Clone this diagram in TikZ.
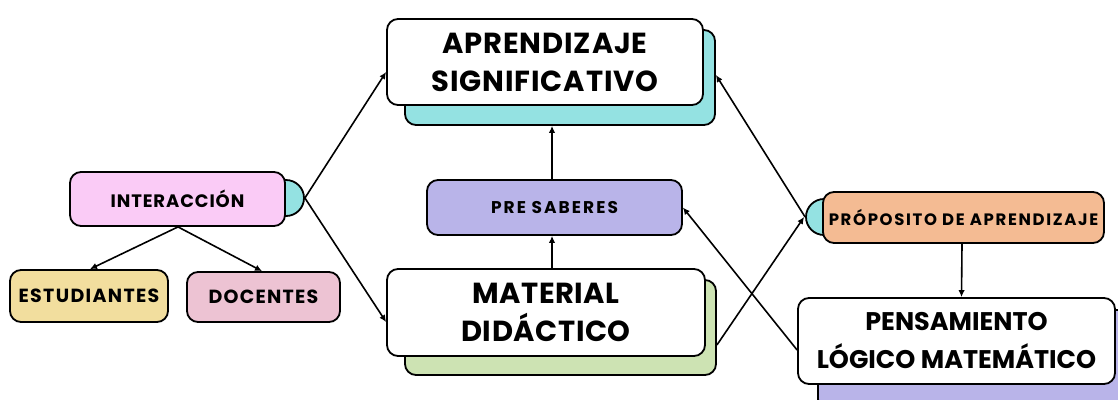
\documentclass[tikz,border=0pt]{standalone}
\usepackage{fontspec}
\setmainfont{Poppins}
\usetikzlibrary{arrows.meta}
\definecolor{cpink}{HTML}{FACBF6}
\definecolor{cteal}{HTML}{94E2E2}
\definecolor{ctan}{HTML}{F2DE9E}
\definecolor{cdpink}{HTML}{EDC3D3}
\definecolor{cpurple}{HTML}{B9B4E9}
\definecolor{cgreen}{HTML}{CDE3B3}
\definecolor{corange}{HTML}{F4BB93}
\tikzset{
  box/.style={draw=black, line width=1.8pt, rounded corners=11pt, inner sep=0pt, align=center, font=\bfseries},
  bump/.style={draw=black, line width=1.8pt, circle, fill=cteal, minimum size=36pt, inner sep=0pt},
  conn/.style={line width=1.6pt, -{Latex[length=7pt,width=6.5pt]}}
}
\begin{document}
\begin{tikzpicture}[x=1pt,y=-1pt]
\clip (0,0) rectangle (1118,399);
\fill[white] (0,0) rectangle (1118,399);
% bumps
\node[bump] (ibump) at (286,198) {};
\node[bump] (pbump) at (824,217) {};
% shadows
\node[box, fill=cteal, minimum width=310pt, minimum height=95pt] (aprsh) at (560,77.5) {};
\node[box, fill=cgreen, minimum width=311pt, minimum height=95pt] (matsh) at (560.5,327.5) {};
\node[box, fill=cpurple, minimum width=317pt, minimum height=100pt] (penssh) at (976.5,360) {};
% main boxes
\node[box, fill=cpink, minimum width=215pt, minimum height=54pt, font=\bfseries\fontsize{18}{20}\selectfont\addfontfeature{LetterSpace=5}] (inter) at (177.5,199) {INTERACCIÓN};
\node[box, fill=ctan, minimum width=158pt, minimum height=52pt, font=\bfseries\fontsize{19}{22}\selectfont\addfontfeature{LetterSpace=7}] (est) at (89,296) {ESTUDIANTES};
\node[box, fill=cdpink, minimum width=153pt, minimum height=50pt, font=\bfseries\fontsize{19}{22}\selectfont\addfontfeature{LetterSpace=6.5}] (doc) at (263.5,297) {DOCENTES};
\node[box, fill=white, minimum width=316pt, minimum height=86pt, font=\bfseries\fontsize{29}{38}\selectfont\addfontfeature{LetterSpace=3}] (apr) at (545,62) {APRENDIZAJE\\SIGNIFICATIVO};
\node[box, fill=cpurple, minimum width=255pt, minimum height=55pt, font=\bfseries\fontsize{17}{20}\selectfont\addfontfeature{LetterSpace=12}] (pre) at (554.5,207.5) {PRE SABERES};
\node[box, fill=white, minimum width=318pt, minimum height=87pt, font=\bfseries\fontsize{29}{38}\selectfont\addfontfeature{LetterSpace=2}] (mat) at (546,312.5) {MATERIAL\\DIDÁCTICO};
\node[box, fill=corange, minimum width=281pt, minimum height=51pt, font=\bfseries\fontsize{16.5}{20}\selectfont\addfontfeature{LetterSpace=10}] (prop) at (963.5,217.5) {PRÓPOSITO DE APRENDIZAJE};
\node[box, fill=white, minimum width=317pt, minimum height=86pt, font=\bfseries\fontsize{25.5}{38}\selectfont] (pens) at (956.5,341) {PENSAMIENTO\\LÓGICO MATEMÁTICO};
% connectors
\draw[conn] ([xshift=0.5pt]inter.south) -- ([xshift=1pt]est.north);
\draw[conn] ([xshift=0.5pt]inter.south) -- ([xshift=-1.5pt]doc.north);
\draw[conn] (ibump.east) -- ([yshift=-10pt]apr.west);
\draw[conn] (ibump.east) -- ([yshift=-9.5pt]mat.west);
\draw[conn] ([xshift=6pt]mat.north) -- ([xshift=-2.5pt]pre.south);
\draw[conn] ([xshift=-2.5pt]pre.north) -- ([xshift=-8pt]aprsh.south);
\draw[conn] ([yshift=-17.5pt]matsh.east) -- ([xshift=-1pt]pbump.west);
\draw[conn] ([yshift=-9pt]pens.west) -- (pre.east);
\draw[conn] (pbump.west) -- ([yshift=2.5pt]aprsh.east);
\draw[conn] ([xshift=-1.5pt]prop.south) -- ([xshift=5pt]pens.north);
\end{tikzpicture}
\end{document}
